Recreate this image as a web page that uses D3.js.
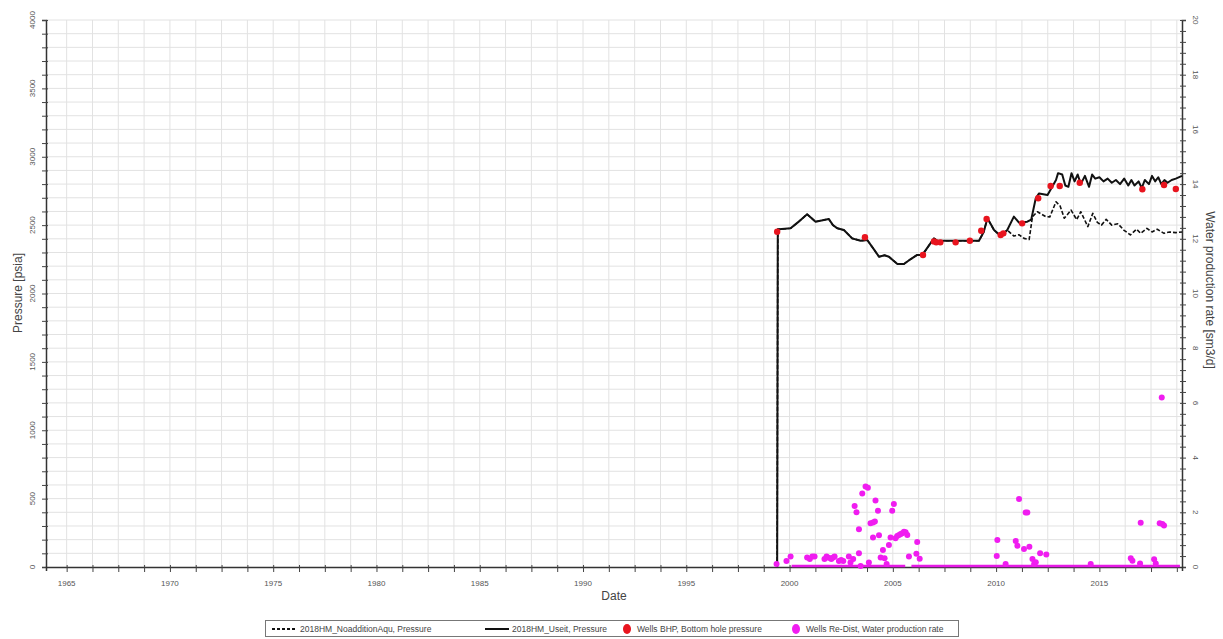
<!DOCTYPE html>
<html>
<head>
<meta charset="utf-8">
<script src="https://cdn.jsdelivr.net/npm/d3@7"></script>
<style>
  html, body { margin: 0; padding: 0; background: #fff; }
  svg { display: block; font-family: "Liberation Sans", Arial, sans-serif; }
</style>
</head>
<body>
<svg id="chart" width="1223" height="639"></svg>
<script>
// ---- Data (dates as decimal years) ----

// Simulated pressure, shared history of both runs [psia]
const histDates = [1999.40, 1999.43, 1999.48, 2000.05, 2000.40, 2000.85, 2001.26, 2001.60, 2001.90, 2002.10, 2002.31, 2002.63,
  2003.03, 2003.44, 2003.76, 2004.05, 2004.33, 2004.60, 2004.81, 2005.22, 2005.54, 2005.85, 2006.18, 2006.43,
  2006.99, 2007.15, 2008.00, 2009.17, 2009.40, 2009.58, 2009.90, 2010.22, 2010.54];
const histPressure = [0, 2469, 2469, 2477, 2520, 2579, 2525, 2535, 2545, 2500, 2477, 2464,
  2403, 2386, 2391, 2330, 2269, 2280, 2269, 2216, 2216, 2250, 2282, 2282,
  2403, 2386, 2386, 2386, 2450, 2550, 2464, 2420, 2464];

// 2018HM_Useit continuation [psia]
const useitDates = [2010.86, 2011.11, 2011.51, 2011.70, 2011.92, 2012.08, 2012.49, 2012.90, 2013.00, 2013.20, 2013.35,
  2013.50, 2013.65, 2013.80, 2013.95, 2014.10, 2014.30, 2014.50, 2014.65, 2014.80, 2015.00, 2015.20,
  2015.40, 2015.60, 2015.80, 2016.00, 2016.20, 2016.40, 2016.55, 2016.70, 2016.90, 2017.05, 2017.20,
  2017.40, 2017.55, 2017.70, 2017.85, 2018.00, 2018.15, 2018.30, 2018.50, 2018.70, 2019.00];
const useitPressure = [2562, 2518, 2525, 2540, 2696, 2732, 2720, 2830, 2880, 2870, 2790,
  2780, 2880, 2820, 2870, 2800, 2860, 2780, 2870, 2840, 2850, 2820,
  2840, 2810, 2830, 2800, 2840, 2790, 2830, 2790, 2820, 2770, 2830,
  2800, 2860, 2820, 2850, 2800, 2830, 2810, 2830, 2840, 2860];

// 2018HM_NoadditionAqu continuation [psia]
const noAquDates = [2010.86, 2011.10, 2011.35, 2011.60, 2011.76, 2012.00, 2012.40, 2012.60, 2012.90, 2013.10, 2013.30,
  2013.63, 2013.90, 2014.10, 2014.44, 2014.68, 2014.90, 2015.10, 2015.33, 2015.60, 2015.90, 2016.18,
  2016.50, 2016.80, 2017.00, 2017.30, 2017.55, 2017.80, 2018.13, 2018.40, 2018.70, 2019.00];
const noAquPressure = [2420, 2430, 2403, 2395, 2562, 2598, 2562, 2560, 2671, 2640, 2550,
  2610, 2540, 2598, 2489, 2586, 2520, 2500, 2542, 2500, 2510, 2464,
  2428, 2470, 2440, 2476, 2450, 2470, 2440, 2450, 2445, 2450];

// Wells BHP, bottom hole pressure [psia]
const bhpDates = [1999.40, 2003.65, 2006.46, 2006.99, 2007.10, 2007.30, 2008.04, 2008.73, 2009.28, 2009.54,
  2010.22, 2010.35, 2011.26, 2012.04, 2012.64, 2013.08, 2014.05, 2017.08, 2018.13, 2018.70];
const bhpValues = [2452, 2411, 2282, 2381, 2374, 2374, 2374, 2386, 2459, 2545,
  2428, 2440, 2513, 2696, 2786, 2786, 2810, 2762, 2793, 2764];

// Wells Re-Dist, water production rate [sm3/d]
const waterDates = [1999.37, 1999.85, 2000.05, 2000.85, 2000.98, 2001.10, 2001.21, 2001.69, 2001.79, 2001.90,
  2002.02, 2002.11, 2002.18, 2002.39, 2002.50, 2002.60, 2002.87, 2002.95, 2003.08, 2003.36,
  2003.44, 2003.84, 2003.15, 2003.24, 2003.36, 2003.52, 2003.68, 2003.79, 2003.92, 2004.04,
  2004.13, 2004.04, 2004.16, 2004.28, 2004.33, 2004.41, 2004.52, 2004.60, 2004.70, 2004.81,
  2004.89, 2004.97, 2005.05, 2005.13, 2005.21, 2005.30, 2005.38, 2005.46, 2005.54, 2005.62,
  2005.70, 2005.78, 2006.14, 2006.18, 2006.30, 2010.03, 2010.06, 2010.46, 2010.95, 2011.03,
  2011.11, 2011.35, 2011.43, 2011.51, 2011.61, 2011.76, 2011.84, 2011.92, 2012.13, 2012.43,
  2014.58, 2016.52, 2016.60, 2016.97, 2017.00, 2017.65, 2017.73, 2017.92, 2018.05, 2018.13, 2018.02];
const waterRates = [0.11, 0.22, 0.38, 0.35, 0.29, 0.38, 0.38, 0.29, 0.38, 0.34,
  0.29, 0.35, 0.38, 0.22, 0.26, 0.22, 0.38, 0.16, 0.29, 0.50,
  0.04, 0.16, 2.23, 2.00, 1.38, 2.69, 2.94, 2.90, 1.60, 1.63,
  1.66, 1.08, 2.43, 2.06, 1.16, 0.35, 0.62, 0.32, 0.11, 0.80,
  1.08, 2.06, 2.30, 1.05, 1.13, 1.17, 1.21, 1.23, 1.29, 1.27,
  1.17, 0.38, 0.48, 0.91, 0.30, 0.40, 0.99, 0.11, 0.95, 0.78,
  2.49, 0.66, 1.99, 1.99, 0.74, 0.29, 0.11, 0.17, 0.50, 0.46,
  0.11, 0.32, 0.23, 0.13, 1.62, 0.28, 0.13, 1.60, 1.57, 1.52, 6.20];
// Periods where the reported water rate stays at zero
const zeroRateStart = [2000.10, 2005.90];
const zeroRateEnd = [2005.60, 2018.90];

// Axis ticks
const yearLabels = [1965, 1970, 1975, 1980, 1985, 1990, 1995, 2000, 2005, 2010, 2015];
const pressureLabels = [0, 500, 1000, 1500, 2000, 2500, 3000, 3500, 4000];
const rateLabels = [0, 2, 4, 6, 8, 10, 12, 14, 16, 18, 20];

const legendLabels = ["2018HM_NoadditionAqu, Pressure", "2018HM_Useit, Pressure",
  "Wells BHP, Bottom hole pressure", "Wells Re-Dist, Water production rate"];

// ---- Layout ----
const plot = { left: 46, right: 1182, top: 20, bottom: 567 };
const svg = d3.select("#chart");

const x = d3.scaleLinear().domain([1964, 2019]).range([plot.left, plot.right]);
const yP = d3.scaleLinear().domain([0, 4000]).range([plot.bottom, plot.top]);
const yW = d3.scaleLinear().domain([0, 20]).range([plot.bottom, plot.top]);

const textColor = "#555";
const gridColor = "#e2e2e2";

// Grid: every 15 months in time, every 100 psia in pressure
const xGrid = d3.range(1965, 2019, 1.25);
const yGrid = d3.range(100, 4001, 100);

const grid = svg.append("g");
grid.selectAll("line.v").data(xGrid).join("line")
  .attr("x1", d => x(d)).attr("x2", d => x(d))
  .attr("y1", plot.top).attr("y2", plot.bottom)
  .attr("stroke", gridColor).attr("stroke-width", 1);
grid.selectAll("line.h").data(yGrid).join("line")
  .attr("x1", plot.left).attr("x2", plot.right)
  .attr("y1", d => yP(d)).attr("y2", d => yP(d))
  .attr("stroke", gridColor).attr("stroke-width", 1);

// ---- Axes ----
// Left pressure axis
const leftAxis = svg.append("g").attr("transform", `translate(${plot.left},0)`)
  .call(d3.axisLeft(yP).tickValues(d3.range(0, 4001, 100)).tickSize(4).tickFormat(""));
leftAxis.select(".domain").attr("stroke", "#333").attr("stroke-width", 1.5);
leftAxis.selectAll(".tick line").attr("stroke", "#444").attr("x2", -4).attr("x1", 2);
svg.append("g").selectAll("text").data(pressureLabels).join("text")
  .attr("transform", d => `translate(${plot.left - 11},${yP(d)}) rotate(-90)`)
  .attr("text-anchor", "middle").attr("font-size", 8).attr("fill", textColor)
  .text(d => d);

// Right rate axis
const rightAxis = svg.append("g").attr("transform", `translate(${plot.right},0)`)
  .call(d3.axisRight(yW).tickValues(d3.range(0, 20.01, 0.4)).tickSize(4).tickFormat(""));
rightAxis.select(".domain").attr("stroke", "#333").attr("stroke-width", 1.5);
rightAxis.selectAll(".tick line").attr("stroke", "#444").attr("x2", 4).attr("x1", -2);
svg.append("g").selectAll("text").data(rateLabels).join("text")
  .attr("transform", d => `translate(${plot.right + 11},${yW(d)}) rotate(90)`)
  .attr("text-anchor", "middle").attr("font-size", 8).attr("fill", textColor)
  .text(d => d);

// Bottom date axis
const bottomAxis = svg.append("g").attr("transform", `translate(0,${plot.bottom})`)
  .call(d3.axisBottom(x).tickValues(xGrid).tickSize(4).tickFormat(""));
bottomAxis.select(".domain").attr("stroke", "#333").attr("stroke-width", 1.5);
bottomAxis.selectAll(".tick line").attr("stroke", "#444").attr("y1", -2).attr("y2", 5);
svg.append("g").selectAll("text").data(yearLabels).join("text")
  .attr("x", d => x(d)).attr("y", plot.bottom + 19)
  .attr("text-anchor", "middle").attr("font-size", 8).attr("fill", textColor)
  .text(d => d);

// Axis titles
svg.append("text").attr("x", 614).attr("y", 600).attr("text-anchor", "middle")
  .attr("font-size", 12).attr("fill", "#444").text("Date");
svg.append("text").attr("transform", "translate(22,293) rotate(-90)").attr("text-anchor", "middle")
  .attr("font-size", 12).attr("fill", "#444").text("Pressure [psia]");
svg.append("text").attr("transform", "translate(1206,290) rotate(90)").attr("text-anchor", "middle")
  .attr("font-size", 12).attr("fill", "#444").text("Water production rate [sm3/d]");

// ---- Marks ----
const zip = (ds, vs) => ds.map((d, i) => ({ t: d, v: vs[i] }));
const line = d3.line().x(d => x(d.t)).y(d => yP(d.v));

const history = zip(histDates, histPressure);
const useit = history.concat(zip(useitDates, useitPressure));
const noAqu = history.concat(zip(noAquDates, noAquPressure));

// Water rate: zero-rate periods and reported points
svg.append("g").selectAll("line").data(zeroRateStart.map((s, i) => [s, zeroRateEnd[i]])).join("line")
  .attr("x1", d => x(d[0])).attr("x2", d => x(d[1]))
  .attr("y1", yW(0) - 1).attr("y2", yW(0) - 1)
  .attr("stroke", "#e619e6").attr("stroke-width", 2.5);

svg.append("path").datum(noAqu).attr("d", line)
  .attr("fill", "none").attr("stroke", "#111").attr("stroke-width", 1.6)
  .attr("stroke-dasharray", "4,2").attr("stroke-linejoin", "round");
svg.append("path").datum(useit).attr("d", line)
  .attr("fill", "none").attr("stroke", "#111").attr("stroke-width", 2).attr("stroke-linejoin", "round");

svg.append("g").selectAll("circle").data(zip(waterDates, waterRates)).join("circle")
  .attr("cx", d => x(d.t)).attr("cy", d => yW(d.v)).attr("r", 3)
  .attr("fill", "#f01cf0");

svg.append("g").selectAll("circle").data(zip(bhpDates, bhpValues)).join("circle")
  .attr("cx", d => x(d.t)).attr("cy", d => yP(d.v)).attr("r", 3.2)
  .attr("fill", "#e8141e");

// ---- Legend ----
const lg = svg.append("g");
lg.append("rect").attr("x", 265.5).attr("y", 620.5).attr("width", 693).attr("height", 16)
  .attr("fill", "#fff").attr("stroke", "#777").attr("stroke-width", 1);
const lgY = 629;
const lgItems = [
  { kind: "dash", x0: 272, tx: 300 },
  { kind: "solid", x0: 485, tx: 512 },
  { kind: "red", x0: 627, tx: 637 },
  { kind: "mag", x0: 796, tx: 806 }
];
lgItems.forEach((it, i) => {
  if (it.kind === "dash" || it.kind === "solid") {
    lg.append("line").attr("x1", it.x0).attr("x2", it.x0 + 24).attr("y1", lgY).attr("y2", lgY)
      .attr("stroke", "#111").attr("stroke-width", 2)
      .attr("stroke-dasharray", it.kind === "dash" ? "3,2" : null);
  } else {
    lg.append("ellipse").attr("cx", it.x0).attr("cy", lgY).attr("rx", 4).attr("ry", 5)
      .attr("fill", it.kind === "red" ? "#e8141e" : "#f01cf0");
  }
  lg.append("text").attr("x", it.tx).attr("y", lgY + 3).attr("font-size", 8.5)
    .attr("fill", "#444").text(legendLabels[i]);
});
</script>
</body>
</html>
